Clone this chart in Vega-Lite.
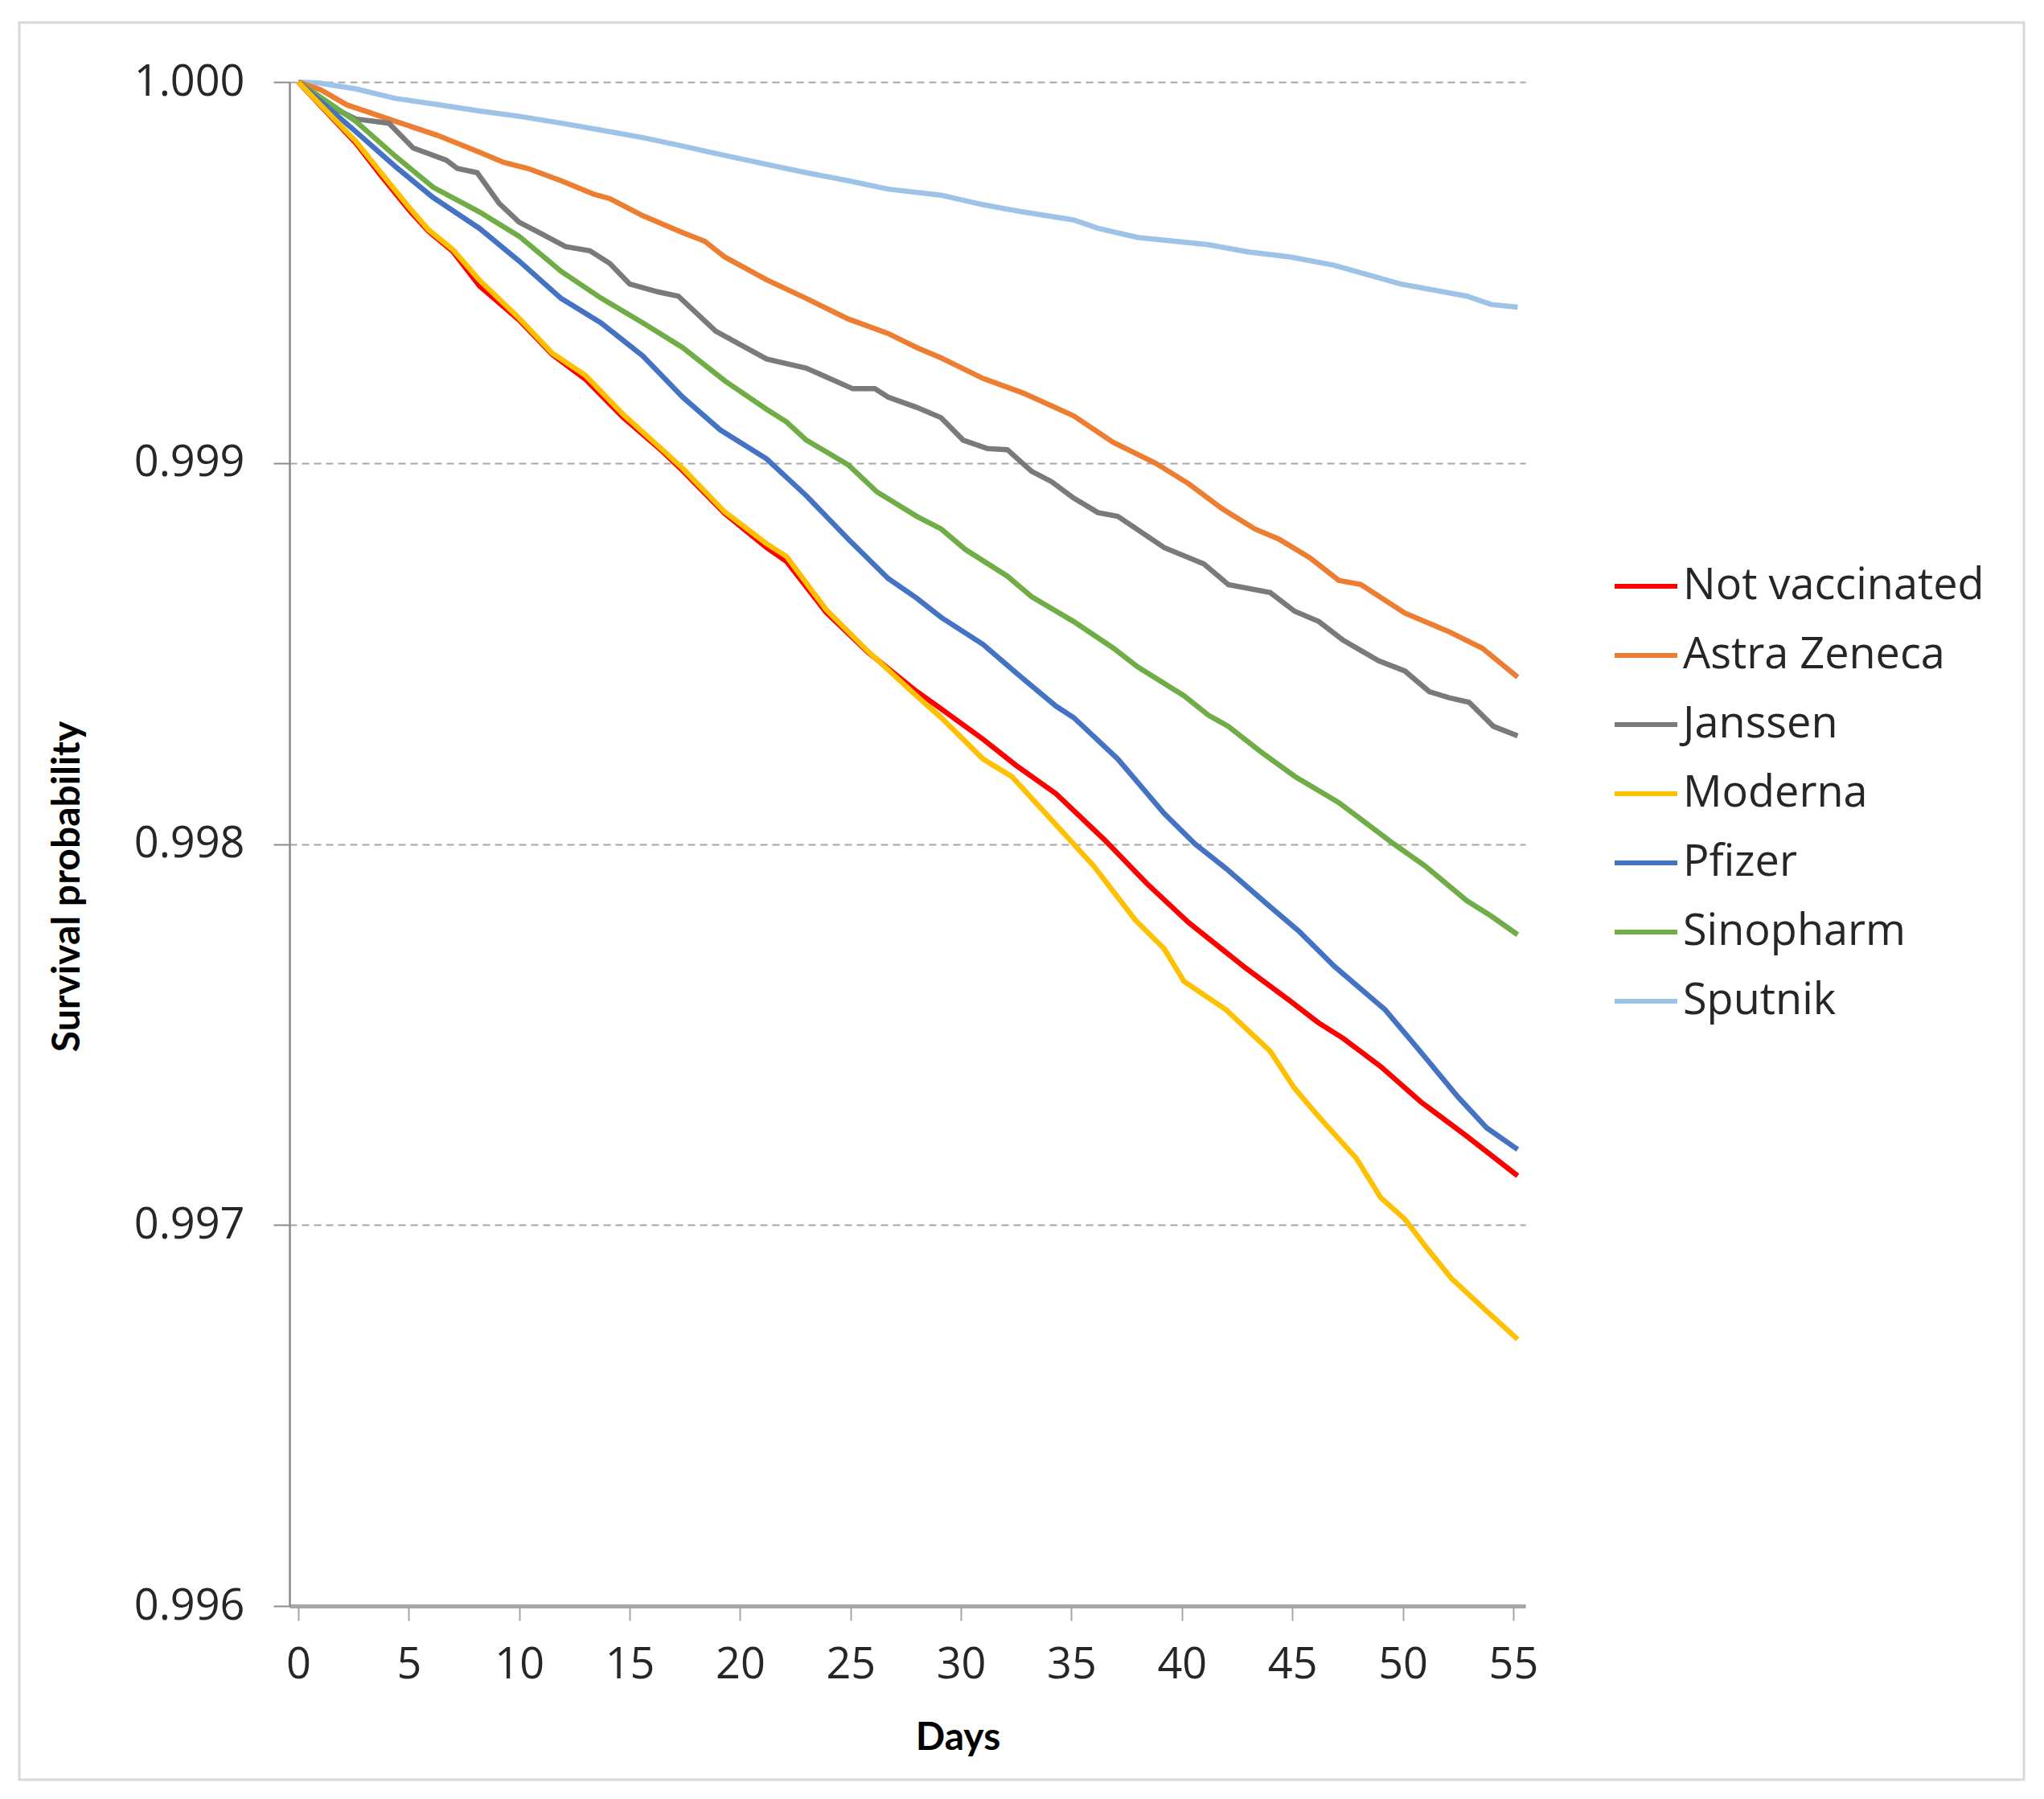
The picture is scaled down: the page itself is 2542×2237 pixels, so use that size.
{
  "$schema": "https://vega.github.io/schema/vega-lite/v6.json",
  "width": 2493,
  "height": 2185,
  "autosize": {"type": "none"},
  "padding": {"left": 24, "top": 28, "right": 25, "bottom": 24},
  "background": "white",
  "config": {
    "font": "Open Sans",
    "view": {"stroke": "#d9d9d9", "strokeWidth": 3}
  },
  "data": {
    "values": [
      {"vaccine": "Sputnik", "day": 0, "survival": 1.0},
      {"vaccine": "Sputnik", "day": 1.0, "survival": 0.999997},
      {"vaccine": "Sputnik", "day": 2.6, "survival": 0.999982},
      {"vaccine": "Sputnik", "day": 4.4, "survival": 0.999957},
      {"vaccine": "Sputnik", "day": 6.3, "survival": 0.999941},
      {"vaccine": "Sputnik", "day": 8.2, "survival": 0.999924},
      {"vaccine": "Sputnik", "day": 10.0, "survival": 0.99991},
      {"vaccine": "Sputnik", "day": 11.9, "survival": 0.999892},
      {"vaccine": "Sputnik", "day": 13.7, "survival": 0.999874},
      {"vaccine": "Sputnik", "day": 15.6, "survival": 0.999854},
      {"vaccine": "Sputnik", "day": 17.4, "survival": 0.999832},
      {"vaccine": "Sputnik", "day": 18.7, "survival": 0.999815},
      {"vaccine": "Sputnik", "day": 21.2, "survival": 0.999784},
      {"vaccine": "Sputnik", "day": 23.0, "survival": 0.999762},
      {"vaccine": "Sputnik", "day": 24.9, "survival": 0.999741},
      {"vaccine": "Sputnik", "day": 26.7, "survival": 0.999719},
      {"vaccine": "Sputnik", "day": 29.1, "survival": 0.999703},
      {"vaccine": "Sputnik", "day": 31.0, "survival": 0.999678},
      {"vaccine": "Sputnik", "day": 32.8, "survival": 0.999659},
      {"vaccine": "Sputnik", "day": 35.1, "survival": 0.999638},
      {"vaccine": "Sputnik", "day": 36.2, "survival": 0.999616},
      {"vaccine": "Sputnik", "day": 38.0, "survival": 0.999592},
      {"vaccine": "Sputnik", "day": 41.2, "survival": 0.999573},
      {"vaccine": "Sputnik", "day": 43.0, "survival": 0.999554},
      {"vaccine": "Sputnik", "day": 44.9, "survival": 0.999541},
      {"vaccine": "Sputnik", "day": 46.9, "survival": 0.999519},
      {"vaccine": "Sputnik", "day": 49.9, "survival": 0.99947},
      {"vaccine": "Sputnik", "day": 52.9, "survival": 0.999438},
      {"vaccine": "Sputnik", "day": 54.0, "survival": 0.999416},
      {"vaccine": "Sputnik", "day": 55.2, "survival": 0.999409},

      {"vaccine": "Astra Zeneca", "day": 0, "survival": 1.0},
      {"vaccine": "Astra Zeneca", "day": 1.0, "survival": 0.99998},
      {"vaccine": "Astra Zeneca", "day": 2.2, "survival": 0.99994},
      {"vaccine": "Astra Zeneca", "day": 4.4, "survival": 0.999897},
      {"vaccine": "Astra Zeneca", "day": 6.3, "survival": 0.99986},
      {"vaccine": "Astra Zeneca", "day": 8.2, "survival": 0.999816},
      {"vaccine": "Astra Zeneca", "day": 9.3, "survival": 0.999789},
      {"vaccine": "Astra Zeneca", "day": 10.4, "survival": 0.999773},
      {"vaccine": "Astra Zeneca", "day": 11.9, "survival": 0.999741},
      {"vaccine": "Astra Zeneca", "day": 13.4, "survival": 0.999705},
      {"vaccine": "Astra Zeneca", "day": 14.1, "survival": 0.999694},
      {"vaccine": "Astra Zeneca", "day": 15.6, "survival": 0.999649},
      {"vaccine": "Astra Zeneca", "day": 17.4, "survival": 0.999605},
      {"vaccine": "Astra Zeneca", "day": 18.4, "survival": 0.999582},
      {"vaccine": "Astra Zeneca", "day": 19.3, "survival": 0.999541},
      {"vaccine": "Astra Zeneca", "day": 21.2, "survival": 0.999481},
      {"vaccine": "Astra Zeneca", "day": 23.0, "survival": 0.999432},
      {"vaccine": "Astra Zeneca", "day": 24.9, "survival": 0.999378},
      {"vaccine": "Astra Zeneca", "day": 26.7, "survival": 0.99934},
      {"vaccine": "Astra Zeneca", "day": 28.0, "survival": 0.999303},
      {"vaccine": "Astra Zeneca", "day": 29.1, "survival": 0.999276},
      {"vaccine": "Astra Zeneca", "day": 31.0, "survival": 0.999222},
      {"vaccine": "Astra Zeneca", "day": 32.8, "survival": 0.999184},
      {"vaccine": "Astra Zeneca", "day": 35.1, "survival": 0.999124},
      {"vaccine": "Astra Zeneca", "day": 36.9, "survival": 0.999054},
      {"vaccine": "Astra Zeneca", "day": 38.8, "survival": 0.999},
      {"vaccine": "Astra Zeneca", "day": 40.3, "survival": 0.998946},
      {"vaccine": "Astra Zeneca", "day": 41.8, "survival": 0.998881},
      {"vaccine": "Astra Zeneca", "day": 43.3, "survival": 0.998827},
      {"vaccine": "Astra Zeneca", "day": 44.4, "survival": 0.9988},
      {"vaccine": "Astra Zeneca", "day": 45.8, "survival": 0.998751},
      {"vaccine": "Astra Zeneca", "day": 47.1, "survival": 0.998692},
      {"vaccine": "Astra Zeneca", "day": 48.1, "survival": 0.998681},
      {"vaccine": "Astra Zeneca", "day": 50.1, "survival": 0.998606},
      {"vaccine": "Astra Zeneca", "day": 52.1, "survival": 0.998557},
      {"vaccine": "Astra Zeneca", "day": 53.6, "survival": 0.998514},
      {"vaccine": "Astra Zeneca", "day": 55.2, "survival": 0.998438},

      {"vaccine": "Janssen", "day": 0, "survival": 1.0},
      {"vaccine": "Janssen", "day": 1.65, "survival": 0.99993},
      {"vaccine": "Janssen", "day": 2.6, "survival": 0.999903},
      {"vaccine": "Janssen", "day": 4.1, "survival": 0.999892},
      {"vaccine": "Janssen", "day": 5.2, "survival": 0.999827},
      {"vaccine": "Janssen", "day": 6.7, "survival": 0.999795},
      {"vaccine": "Janssen", "day": 7.2, "survival": 0.999773},
      {"vaccine": "Janssen", "day": 8.1, "survival": 0.999762},
      {"vaccine": "Janssen", "day": 9.1, "survival": 0.999681},
      {"vaccine": "Janssen", "day": 10.0, "survival": 0.999632},
      {"vaccine": "Janssen", "day": 10.9, "survival": 0.999605},
      {"vaccine": "Janssen", "day": 12.1, "survival": 0.999568},
      {"vaccine": "Janssen", "day": 13.2, "survival": 0.999557},
      {"vaccine": "Janssen", "day": 14.1, "survival": 0.999524},
      {"vaccine": "Janssen", "day": 15.0, "survival": 0.99947},
      {"vaccine": "Janssen", "day": 16.3, "survival": 0.999449},
      {"vaccine": "Janssen", "day": 17.2, "survival": 0.999438},
      {"vaccine": "Janssen", "day": 18.9, "survival": 0.999346},
      {"vaccine": "Janssen", "day": 21.2, "survival": 0.999273},
      {"vaccine": "Janssen", "day": 23.0, "survival": 0.999249},
      {"vaccine": "Janssen", "day": 25.1, "survival": 0.999195},
      {"vaccine": "Janssen", "day": 26.1, "survival": 0.999195},
      {"vaccine": "Janssen", "day": 26.7, "survival": 0.999173},
      {"vaccine": "Janssen", "day": 28.0, "survival": 0.999146},
      {"vaccine": "Janssen", "day": 29.1, "survival": 0.999119},
      {"vaccine": "Janssen", "day": 30.1, "survival": 0.99906},
      {"vaccine": "Janssen", "day": 31.2, "survival": 0.999038},
      {"vaccine": "Janssen", "day": 32.1, "survival": 0.999035},
      {"vaccine": "Janssen", "day": 33.2, "survival": 0.998978},
      {"vaccine": "Janssen", "day": 34.1, "survival": 0.998951},
      {"vaccine": "Janssen", "day": 35.1, "survival": 0.998908},
      {"vaccine": "Janssen", "day": 36.2, "survival": 0.99887},
      {"vaccine": "Janssen", "day": 37.1, "survival": 0.99886},
      {"vaccine": "Janssen", "day": 39.2, "survival": 0.998778},
      {"vaccine": "Janssen", "day": 41.0, "survival": 0.998735},
      {"vaccine": "Janssen", "day": 42.1, "survival": 0.998681},
      {"vaccine": "Janssen", "day": 44.0, "survival": 0.99866},
      {"vaccine": "Janssen", "day": 45.1, "survival": 0.998611},
      {"vaccine": "Janssen", "day": 46.2, "survival": 0.998584},
      {"vaccine": "Janssen", "day": 47.3, "survival": 0.998535},
      {"vaccine": "Janssen", "day": 48.9, "survival": 0.998481},
      {"vaccine": "Janssen", "day": 50.1, "survival": 0.998454},
      {"vaccine": "Janssen", "day": 51.2, "survival": 0.9984},
      {"vaccine": "Janssen", "day": 52.1, "survival": 0.998384},
      {"vaccine": "Janssen", "day": 53.0, "survival": 0.998372},
      {"vaccine": "Janssen", "day": 54.1, "survival": 0.998309},
      {"vaccine": "Janssen", "day": 55.2, "survival": 0.998284},

      {"vaccine": "Sinopharm", "day": 0, "survival": 1.0},
      {"vaccine": "Sinopharm", "day": 2.6, "survival": 0.999897},
      {"vaccine": "Sinopharm", "day": 4.4, "survival": 0.999805},
      {"vaccine": "Sinopharm", "day": 6.1, "survival": 0.999724},
      {"vaccine": "Sinopharm", "day": 8.2, "survival": 0.999659},
      {"vaccine": "Sinopharm", "day": 10.0, "survival": 0.999595},
      {"vaccine": "Sinopharm", "day": 11.9, "survival": 0.999503},
      {"vaccine": "Sinopharm", "day": 13.7, "survival": 0.999433},
      {"vaccine": "Sinopharm", "day": 15.6, "survival": 0.999368},
      {"vaccine": "Sinopharm", "day": 17.4, "survival": 0.999303},
      {"vaccine": "Sinopharm", "day": 19.3, "survival": 0.999216},
      {"vaccine": "Sinopharm", "day": 21.2, "survival": 0.999141},
      {"vaccine": "Sinopharm", "day": 22.1, "survival": 0.999108},
      {"vaccine": "Sinopharm", "day": 23.0, "survival": 0.99906},
      {"vaccine": "Sinopharm", "day": 24.9, "survival": 0.998995},
      {"vaccine": "Sinopharm", "day": 26.2, "survival": 0.998924},
      {"vaccine": "Sinopharm", "day": 28.0, "survival": 0.99886},
      {"vaccine": "Sinopharm", "day": 29.1, "survival": 0.998827},
      {"vaccine": "Sinopharm", "day": 30.2, "survival": 0.998773},
      {"vaccine": "Sinopharm", "day": 32.1, "survival": 0.998703},
      {"vaccine": "Sinopharm", "day": 33.2, "survival": 0.998649},
      {"vaccine": "Sinopharm", "day": 35.1, "survival": 0.998584},
      {"vaccine": "Sinopharm", "day": 36.9, "survival": 0.998514},
      {"vaccine": "Sinopharm", "day": 38.0, "survival": 0.998465},
      {"vaccine": "Sinopharm", "day": 40.1, "survival": 0.998389},
      {"vaccine": "Sinopharm", "day": 41.2, "survival": 0.998338},
      {"vaccine": "Sinopharm", "day": 42.1, "survival": 0.998309},
      {"vaccine": "Sinopharm", "day": 43.6, "survival": 0.998241},
      {"vaccine": "Sinopharm", "day": 45.1, "survival": 0.998178},
      {"vaccine": "Sinopharm", "day": 47.1, "survival": 0.998109},
      {"vaccine": "Sinopharm", "day": 49.6, "survival": 0.998},
      {"vaccine": "Sinopharm", "day": 51.0, "survival": 0.997943},
      {"vaccine": "Sinopharm", "day": 52.9, "survival": 0.997851},
      {"vaccine": "Sinopharm", "day": 54.0, "survival": 0.997811},
      {"vaccine": "Sinopharm", "day": 55.2, "survival": 0.997762},

      {"vaccine": "Pfizer", "day": 0, "survival": 1.0},
      {"vaccine": "Pfizer", "day": 2.6, "survival": 0.99987},
      {"vaccine": "Pfizer", "day": 4.4, "survival": 0.999778},
      {"vaccine": "Pfizer", "day": 6.1, "survival": 0.999697},
      {"vaccine": "Pfizer", "day": 8.2, "survival": 0.999616},
      {"vaccine": "Pfizer", "day": 10.0, "survival": 0.99953},
      {"vaccine": "Pfizer", "day": 11.9, "survival": 0.999432},
      {"vaccine": "Pfizer", "day": 13.7, "survival": 0.999368},
      {"vaccine": "Pfizer", "day": 15.6, "survival": 0.999281},
      {"vaccine": "Pfizer", "day": 16.5, "survival": 0.999227},
      {"vaccine": "Pfizer", "day": 17.4, "survival": 0.999173},
      {"vaccine": "Pfizer", "day": 19.1, "survival": 0.999087},
      {"vaccine": "Pfizer", "day": 21.2, "survival": 0.999011},
      {"vaccine": "Pfizer", "day": 23.0, "survival": 0.998914},
      {"vaccine": "Pfizer", "day": 24.9, "survival": 0.9988},
      {"vaccine": "Pfizer", "day": 26.7, "survival": 0.998697},
      {"vaccine": "Pfizer", "day": 28.0, "survival": 0.998645},
      {"vaccine": "Pfizer", "day": 29.1, "survival": 0.998595},
      {"vaccine": "Pfizer", "day": 31.0, "survival": 0.998524},
      {"vaccine": "Pfizer", "day": 32.5, "survival": 0.998449},
      {"vaccine": "Pfizer", "day": 34.3, "survival": 0.998362},
      {"vaccine": "Pfizer", "day": 35.1, "survival": 0.998332},
      {"vaccine": "Pfizer", "day": 37.1, "survival": 0.998223},
      {"vaccine": "Pfizer", "day": 39.2, "survival": 0.99808},
      {"vaccine": "Pfizer", "day": 40.6, "survival": 0.998},
      {"vaccine": "Pfizer", "day": 42.1, "survival": 0.997931},
      {"vaccine": "Pfizer", "day": 43.9, "survival": 0.99784},
      {"vaccine": "Pfizer", "day": 45.3, "survival": 0.997771},
      {"vaccine": "Pfizer", "day": 46.9, "survival": 0.997679},
      {"vaccine": "Pfizer", "day": 49.2, "survival": 0.997565},
      {"vaccine": "Pfizer", "day": 50.7, "survival": 0.997462},
      {"vaccine": "Pfizer", "day": 52.5, "survival": 0.997336},
      {"vaccine": "Pfizer", "day": 53.8, "survival": 0.997255},
      {"vaccine": "Pfizer", "day": 55.2, "survival": 0.997198},

      {"vaccine": "Not vaccinated", "day": 0, "survival": 1.0},
      {"vaccine": "Not vaccinated", "day": 2.6, "survival": 0.99984},
      {"vaccine": "Not vaccinated", "day": 3.7, "survival": 0.999758},
      {"vaccine": "Not vaccinated", "day": 5.0, "survival": 0.999665},
      {"vaccine": "Not vaccinated", "day": 5.9, "survival": 0.999608},
      {"vaccine": "Not vaccinated", "day": 7.0, "survival": 0.999555},
      {"vaccine": "Not vaccinated", "day": 8.2, "survival": 0.999465},
      {"vaccine": "Not vaccinated", "day": 10.0, "survival": 0.999375},
      {"vaccine": "Not vaccinated", "day": 11.5, "survival": 0.999285},
      {"vaccine": "Not vaccinated", "day": 13.0, "survival": 0.99922},
      {"vaccine": "Not vaccinated", "day": 14.7, "survival": 0.99912},
      {"vaccine": "Not vaccinated", "day": 16.5, "survival": 0.99903},
      {"vaccine": "Not vaccinated", "day": 17.4, "survival": 0.99898},
      {"vaccine": "Not vaccinated", "day": 19.3, "survival": 0.998868},
      {"vaccine": "Not vaccinated", "day": 21.2, "survival": 0.998778},
      {"vaccine": "Not vaccinated", "day": 22.1, "survival": 0.998742},
      {"vaccine": "Not vaccinated", "day": 23.9, "survival": 0.998608},
      {"vaccine": "Not vaccinated", "day": 25.8, "survival": 0.998503},
      {"vaccine": "Not vaccinated", "day": 28.0, "survival": 0.9984},
      {"vaccine": "Not vaccinated", "day": 29.1, "survival": 0.998355},
      {"vaccine": "Not vaccinated", "day": 31.0, "survival": 0.998275},
      {"vaccine": "Not vaccinated", "day": 32.5, "survival": 0.998206},
      {"vaccine": "Not vaccinated", "day": 34.3, "survival": 0.998132},
      {"vaccine": "Not vaccinated", "day": 36.5, "survival": 0.998011},
      {"vaccine": "Not vaccinated", "day": 38.4, "survival": 0.997897},
      {"vaccine": "Not vaccinated", "day": 40.3, "survival": 0.997794},
      {"vaccine": "Not vaccinated", "day": 42.9, "survival": 0.997674},
      {"vaccine": "Not vaccinated", "day": 44.9, "survival": 0.997588},
      {"vaccine": "Not vaccinated", "day": 46.2, "survival": 0.99753},
      {"vaccine": "Not vaccinated", "day": 47.3, "survival": 0.99749},
      {"vaccine": "Not vaccinated", "day": 49.0, "survival": 0.997416},
      {"vaccine": "Not vaccinated", "day": 50.8, "survival": 0.997324},
      {"vaccine": "Not vaccinated", "day": 52.9, "survival": 0.997233},
      {"vaccine": "Not vaccinated", "day": 55.2, "survival": 0.997129},

      {"vaccine": "Moderna", "day": 0, "survival": 1.0},
      {"vaccine": "Moderna", "day": 2.6, "survival": 0.999845},
      {"vaccine": "Moderna", "day": 3.7, "survival": 0.999765},
      {"vaccine": "Moderna", "day": 5.0, "survival": 0.999672},
      {"vaccine": "Moderna", "day": 5.9, "survival": 0.999612},
      {"vaccine": "Moderna", "day": 7.0, "survival": 0.99956},
      {"vaccine": "Moderna", "day": 8.2, "survival": 0.99948},
      {"vaccine": "Moderna", "day": 10.0, "survival": 0.99938},
      {"vaccine": "Moderna", "day": 11.5, "survival": 0.999288},
      {"vaccine": "Moderna", "day": 13.0, "survival": 0.99923},
      {"vaccine": "Moderna", "day": 14.7, "survival": 0.999128},
      {"vaccine": "Moderna", "day": 16.5, "survival": 0.999034},
      {"vaccine": "Moderna", "day": 17.4, "survival": 0.998986},
      {"vaccine": "Moderna", "day": 19.3, "survival": 0.998872},
      {"vaccine": "Moderna", "day": 21.2, "survival": 0.998788},
      {"vaccine": "Moderna", "day": 22.1, "survival": 0.998755},
      {"vaccine": "Moderna", "day": 23.9, "survival": 0.998615},
      {"vaccine": "Moderna", "day": 25.8, "survival": 0.998505},
      {"vaccine": "Moderna", "day": 28.0, "survival": 0.998388},
      {"vaccine": "Moderna", "day": 29.1, "survival": 0.998332},
      {"vaccine": "Moderna", "day": 31.0, "survival": 0.998223},
      {"vaccine": "Moderna", "day": 32.3, "survival": 0.998177},
      {"vaccine": "Moderna", "day": 34.2, "survival": 0.998057},
      {"vaccine": "Moderna", "day": 36.0, "survival": 0.997943},
      {"vaccine": "Moderna", "day": 37.9, "survival": 0.9978},
      {"vaccine": "Moderna", "day": 39.2, "survival": 0.997725},
      {"vaccine": "Moderna", "day": 40.1, "survival": 0.997639},
      {"vaccine": "Moderna", "day": 42.0, "survival": 0.997565},
      {"vaccine": "Moderna", "day": 44.0, "survival": 0.997456},
      {"vaccine": "Moderna", "day": 45.1, "survival": 0.997359},
      {"vaccine": "Moderna", "day": 46.2, "survival": 0.997284},
      {"vaccine": "Moderna", "day": 47.9, "survival": 0.997175},
      {"vaccine": "Moderna", "day": 49.0, "survival": 0.997072},
      {"vaccine": "Moderna", "day": 50.1, "survival": 0.997015},
      {"vaccine": "Moderna", "day": 51.0, "survival": 0.996946},
      {"vaccine": "Moderna", "day": 52.2, "survival": 0.99686},
      {"vaccine": "Moderna", "day": 53.8, "survival": 0.996774},
      {"vaccine": "Moderna", "day": 55.2, "survival": 0.9967}
    ]
  },
  "mark": {"type": "line", "strokeWidth": 6.5, "interpolate": "linear"},
  "encoding": {
    "x": {
      "field": "day",
      "type": "quantitative",
      "scale": {"domain": [-0.4, 55.55], "range": [336, 1873], "nice": false, "zero": false},
      "axis": {
        "values": [0, 5, 10, 15, 20, 25, 30, 35, 40, 45, 50, 55],
        "offset": -216,
        "grid": false,
        "domainColor": "#a6a6a6",
        "domainWidth": 5,
        "tickColor": "#a6a6a6",
        "tickWidth": 2,
        "tickSize": 18,
        "labelFontSize": 54,
        "labelColor": "#262626",
        "labelPadding": 28,
        "title": "Days",
        "titleFont": "Lato",
        "titleFontWeight": "bold",
        "titleFontSize": 48,
        "titleColor": "#000000",
        "titleX": 1167,
        "titleY": 164,
        "titleBaseline": "middle",
        "titleAlign": "center"
      }
    },
    "y": {
      "field": "survival",
      "type": "quantitative",
      "scale": {"domain": [0.996, 1.0], "range": [1969, 74], "nice": false, "zero": false},
      "axis": {
        "values": [0.996, 0.997, 0.998, 0.999, 1.0],
        "format": ".3f",
        "offset": -336,
        "grid": true,
        "gridColor": "#a6a6a6",
        "gridDash": [9, 6],
        "gridWidth": 2,
        "domainColor": "#8c8c8c",
        "domainWidth": 2.5,
        "tickColor": "#8c8c8c",
        "tickWidth": 2,
        "tickSize": 20,
        "labelFontSize": 54,
        "labelColor": "#262626",
        "labelPadding": 36,
        "title": "Survival probability",
        "titleFont": "Lato",
        "titleFontWeight": "bold",
        "titleFontSize": 48,
        "titleColor": "#000000",
        "titleAngle": -90,
        "titleX": -276,
        "titleY": 1074,
        "titleBaseline": "middle",
        "titleAlign": "center"
      }
    },
    "color": {
      "field": "vaccine",
      "type": "nominal",
      "scale": {
        "domain": ["Not vaccinated", "Astra Zeneca", "Janssen", "Moderna", "Pfizer", "Sinopharm", "Sputnik"],
        "range": ["#ff0000", "#ed7d31", "#7a7a7a", "#ffc000", "#4472c4", "#70ad47", "#9dc3e6"]
      },
      "legend": {
        "orient": "none",
        "legendX": 1981,
        "legendY": 659,
        "title": null,
        "symbolType": "stroke",
        "symbolSize": 6084,
        "symbolStrokeWidth": 6,
        "labelFont": "Open Sans",
        "labelFontSize": 54,
        "labelColor": "#262626",
        "labelOffset": 4,
        "labelLimit": 600,
        "rowPadding": 17
      }
    }
  }
}
